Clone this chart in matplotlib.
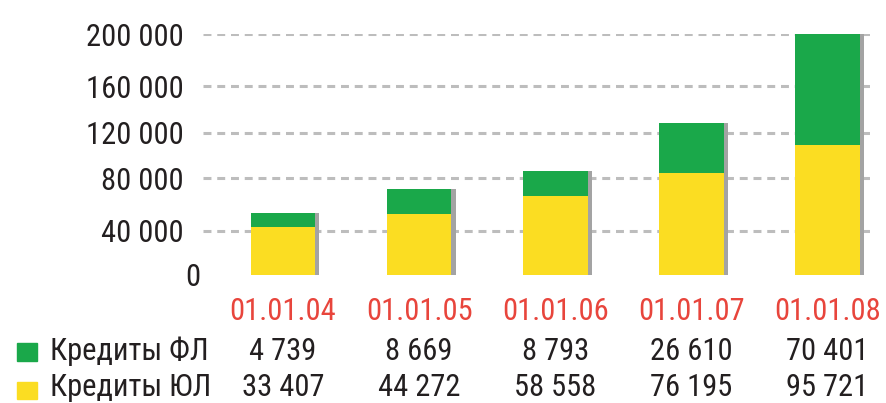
import numpy as np
import matplotlib
matplotlib.use('Agg')
import matplotlib.pyplot as plt
from matplotlib.patches import Rectangle
from matplotlib.transforms import ScaledTranslation, blended_transform_factory

# ---- data ----
dates = ['01.01.04', '01.01.05', '01.01.06', '01.01.07', '01.01.08']
fl_table = ['4 739', '8 669', '8 793', '26 610', '70 401']
ul_table = ['33 407', '44 272', '58 558', '76 195', '95 721']
# bar heights as drawn in the picture (read against its axis)
ul_bar = [43200, 53100, 66600, 84700, 109300]
fl_bar = [10600, 18400, 19600, 44100, 90700]
yticks = [0, 40000, 80000, 120000, 160000, 200000]
ytick_labels = ['0', '40 000', '80 000', '120 000', '160 000', '200 000']
row_labels = ['Кредиты ФЛ', 'Кредиты ЮЛ']
# the reference axis has uneven tick spacing
tick_pos = [0, 44, 97, 142, 189, 241]

GREEN = '#1aa84a'
YELLOW = '#fbdd22'
RED = '#e8453c'
TEXT = '#231f20'
FONT = ['Roboto Condensed', 'DejaVu Sans']
plt.rcParams['font.family'] = FONT

tv = np.array(yticks, float)
tp = np.array(tick_pos, float)


def fwd(v):
    v = np.asarray(v, float)
    out = np.interp(v, tv, tp)
    s0 = (tp[1] - tp[0]) / (tv[1] - tv[0])
    s1 = (tp[-1] - tp[-2]) / (tv[-1] - tv[-2])
    out = np.where(v < tv[0], tp[0] + (v - tv[0]) * s0, out)
    out = np.where(v > tv[-1], tp[-1] + (v - tv[-1]) * s1, out)
    return out


def inv(p):
    p = np.asarray(p, float)
    out = np.interp(p, tp, tv)
    s0 = (tv[1] - tv[0]) / (tp[1] - tp[0])
    s1 = (tv[-1] - tv[-2]) / (tp[-1] - tp[-2])
    out = np.where(p < tp[0], tv[0] + (p - tp[0]) * s0, out)
    out = np.where(p > tp[-1], tv[-1] + (p - tp[-1]) * s1, out)
    return out


fig = plt.figure(figsize=(8.87, 4.03), dpi=100)
W, H = 887, 403
ax = fig.add_axes([203 / W, 1 - 275 / H, (870 - 203) / W, (275 - 34) / H])
ax.set_yscale('function', functions=(fwd, inv))

x = np.arange(len(dates))
width = 0.475
totals = np.array(ul_bar) + np.array(fl_bar)

ax.bar(x + 0.03, totals, width=width, color='#a3a3a3', zorder=2)
ax.bar(x, ul_bar, width=width, color=YELLOW, zorder=3)
ax.bar(x, fl_bar, bottom=ul_bar, width=width, color=GREEN, zorder=3)

ax.set_xlim(-0.588, 4.312)
ax.set_ylim(0, 200000)

for t in yticks[1:]:
    ax.axhline(t, color='#bdbdbd', lw=2.2, dashes=(2.6, 1.9), zorder=1)

ax.set_yticks(yticks)
ax.set_yticklabels(ytick_labels, fontsize=22, color=TEXT)
ax.tick_params(axis='y', length=0, pad=14)
ax.set_xticks([])
for s in ax.spines.values():
    s.set_visible(False)
lab0 = ax.get_yticklabels()[0]
lab0.set_transform(lab0.get_transform() + ScaledTranslation(17 / 100, 0, fig.dpi_scale_trans))

tr = blended_transform_factory(ax.transData, fig.transFigure)
y_dates = 1 - 312 / H
y_fl = 1 - 351 / H
y_ul = 1 - 388 / H
for i in range(len(dates)):
    ax.text(x[i], y_dates, dates[i], transform=tr, ha='center', va='center',
            fontsize=22, color=RED)
    ax.text(x[i], y_fl, fl_table[i], transform=tr, ha='center', va='center',
            fontsize=22, color=TEXT)
    ax.text(x[i], y_ul, ul_table[i], transform=tr, ha='center', va='center',
            fontsize=22, color=TEXT)

fig.text(50 / W, y_fl, row_labels[0], ha='left', va='center', fontsize=22, color=TEXT)
fig.text(50 / W, y_ul, row_labels[1], ha='left', va='center', fontsize=22, color=TEXT)
fig.patches.append(Rectangle((17 / W, 1 - 361 / H), 20 / W, 18 / H, transform=fig.transFigure,
                             color=GREEN, figure=fig))
fig.patches.append(Rectangle((17 / W, 1 - 399 / H), 20 / W, 17 / H, transform=fig.transFigure,
                             color=YELLOW, figure=fig))

fig.savefig('out.png', dpi=100)
